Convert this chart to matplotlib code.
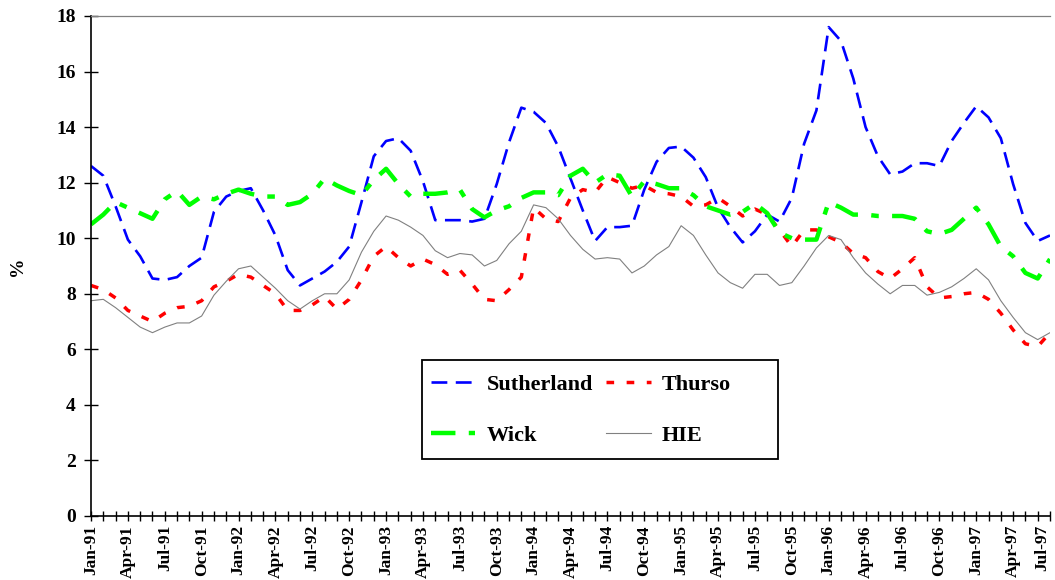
import matplotlib
matplotlib.use("Agg")
import matplotlib.pyplot as plt
from matplotlib.patches import Rectangle

# Monthly unemployment rates (%), Jan-91 to Jul-97
months = ['Jan', 'Feb', 'Mar', 'Apr', 'May', 'Jun',
          'Jul', 'Aug', 'Sep', 'Oct', 'Nov', 'Dec']
years = range(91, 98)
periods = [f"{m}-{y}" for y in years for m in months][:79]

sutherland = [12.6, 12.25, 11.15, 9.95, 9.35, 8.55, 8.5, 8.6, 9.0, 9.3,
              10.95, 11.5, 11.7, 11.8, 11.0, 10.1, 8.85, 8.3, 8.55, 8.8,
              9.15, 9.7, 11.3, 12.95, 13.5, 13.6, 13.15, 12.05, 10.65, 10.65,
              10.65, 10.6, 10.7, 11.95, 13.45, 14.7, 14.55, 14.15, 13.3, 12.15,
              11.0, 9.9, 10.4, 10.4, 10.45, 11.75, 12.75, 13.25, 13.3, 12.9,
              12.2, 11.1, 10.4, 9.85, 10.25, 10.85, 10.6, 11.45, 13.4, 14.6,
              17.6, 17.1, 15.75, 14.0, 12.95, 12.3, 12.4, 12.7, 12.7, 12.6,
              13.5, 14.15, 14.75, 14.35, 13.6, 11.95, 10.55, 9.9, 10.1]

thurso = [8.3, 8.15, 7.85, 7.4, 7.2, 7.0, 7.3, 7.5, 7.55, 7.75,
          8.25, 8.45, 8.7, 8.6, 8.3, 8.0, 7.4, 7.4, 7.6, 7.9,
          7.45, 7.8, 8.5, 9.35, 9.7, 9.3, 9.0, 9.25, 9.05, 8.7,
          8.85, 8.35, 7.8, 7.75, 8.15, 8.6, 11.1, 10.7, 10.6, 11.45,
          11.75, 11.65, 12.2, 12.0, 11.8, 11.9, 11.65, 11.6, 11.5, 11.15,
          11.2, 11.45, 11.15, 10.8, 11.05, 10.85, 10.3, 9.7, 10.3, 10.3,
          10.05, 9.85, 9.45, 9.3, 8.8, 8.55, 8.9, 9.3, 8.25, 7.85,
          7.9, 8.0, 8.05, 7.8, 7.3, 6.7, 6.2, 6.1, 6.6]

wick = [10.5, 10.85, 11.3, 11.1, 10.9, 10.7, 11.4, 11.7, 11.2, 11.5,
        11.4, 11.6, 11.75, 11.6, 11.5, 11.5, 11.2, 11.3, 11.6, 12.15,
        11.9, 11.7, 11.55, 12.1, 12.5, 11.95, 11.5, 11.6, 11.6, 11.65,
        11.75, 11.05, 10.75, 11.0, 11.15, 11.45, 11.65, 11.65, 11.55, 12.25,
        12.5, 12.0, 12.3, 12.25, 11.5, 12.05, 11.95, 11.8, 11.8, 11.55,
        11.15, 11.0, 10.85, 10.95, 11.25, 10.9, 10.2, 10.0, 9.95, 9.95,
        11.3, 11.1, 10.85, 10.85, 10.8, 10.8, 10.8, 10.7, 10.25, 10.15,
        10.3, 10.7, 11.1, 10.5, 9.7, 9.35, 8.75, 8.55, 9.25]

hie = [7.75, 7.8, 7.5, 7.15, 6.8, 6.6, 6.8, 6.95, 6.95, 7.2,
       7.95, 8.45, 8.9, 9.0, 8.6, 8.2, 7.75, 7.45, 7.75, 8.0,
       8.0, 8.5, 9.5, 10.25, 10.8, 10.65, 10.4, 10.1, 9.55, 9.3,
       9.45, 9.4, 9.0, 9.2, 9.8, 10.25, 11.2, 11.1, 10.7, 10.1,
       9.6, 9.25, 9.3, 9.25, 8.75, 9.0, 9.4, 9.7, 10.45, 10.1,
       9.4, 8.75, 8.4, 8.2, 8.7, 8.7, 8.3, 8.4, 9.0, 9.65,
       10.1, 9.95, 9.3, 8.75, 8.35, 8.0, 8.3, 8.3, 7.95, 8.05,
       8.25, 8.55, 8.9, 8.5, 7.75, 7.15, 6.6, 6.35, 6.6]

plt.rcParams['font.family'] = ['Liberation Serif', 'DejaVu Serif']
plt.rcParams['font.weight'] = 'bold'

fig = plt.figure(figsize=(10.55, 5.8), dpi=100)
ax = fig.add_axes([91 / 1055, 1 - 516 / 580, 959 / 1055, 500 / 580])

x = list(range(len(periods)))
l_s, = ax.plot(x, sutherland, color='#0000ff', lw=1.9, dashes=(6, 3.2), label='Sutherland')
l_t, = ax.plot(x, thurso, color='#ff0000', lw=2.5, dashes=(2.2, 3.6), label='Thurso')
l_w, = ax.plot(x, wick, color='#00ff00', lw=3.2, dashes=(5.5, 3, 1.7, 3), label='Wick')
l_h, = ax.plot(x, hie, color='#808080', lw=0.8, label='HIE')

ax.set_xlim(0, len(periods) - 1)
ax.set_ylim(0, 18)
ax.set_yticks(range(0, 19, 2))
ax.set_xticks(x)
ax.set_xticklabels([p if i % 3 == 0 else '' for i, p in enumerate(periods)],
                   rotation=90, fontsize=12.5, fontweight='bold')
for lab in ax.get_yticklabels():
    lab.set_fontsize(14)
    lab.set_fontweight('bold')

# keep the last label (Jul-97) inside the figure
ax.get_xticklabels()[-1].set_horizontalalignment('right')

ax.tick_params(axis='y', direction='inout', length=10, width=1, pad=6)
ax.tick_params(axis='x', direction='inout', length=7, width=1, pad=3)

ax.spines['right'].set_visible(False)
ax.spines['top'].set_color('#808080')
ax.spines['top'].set_linewidth(0.9)
ax.spines['left'].set_linewidth(1.2)
ax.spines['bottom'].set_linewidth(1.2)

ax.set_ylabel('%', fontsize=14, fontweight='bold', labelpad=22)

# legend box
ax.add_patch(Rectangle((0.345, 0.114), 0.371, 0.198, transform=ax.transAxes,
                       facecolor='white', edgecolor='black', lw=1.3, zorder=4))
# column-major fill -> rows: Sutherland/Thurso, Wick/HIE
leg = ax.legend([l_s, l_w, l_t, l_h], ['Sutherland', 'Wick', 'Thurso', 'HIE'],
                loc='upper left', bbox_to_anchor=(0.3545, 0.284), ncol=2,
                frameon=False, fontsize=16, handlelength=2.0, handletextpad=0.5,
                columnspacing=0.6, labelspacing=1.4, borderpad=0, borderaxespad=0)
leg.set_zorder(5)
for t in leg.get_texts():
    t.set_fontweight('bold')

fig.savefig('out.png', dpi=100)
